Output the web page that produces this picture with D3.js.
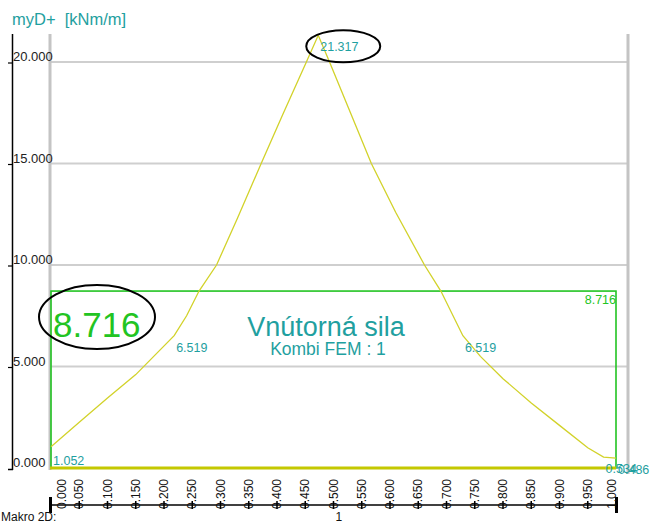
<!DOCTYPE html>
<html>
<head>
<meta charset="utf-8">
<script src="https://cdn.jsdelivr.net/npm/d3@7"></script>
<style>
  html, body { margin: 0; padding: 0; background: #fff; }
  svg { display: block; font-family: Arial, "Liberation Sans", sans-serif; }
</style>
</head>
<body>
<svg id="chart" width="650" height="522"></svg>
<script>
// Internal force myD+ along the member (relative position 0..1)
const positions = [0, 0.05, 0.10, 0.15, 0.218, 0.24, 0.262, 0.293, 0.33, 0.372, 0.41, 0.452, 0.473,
                   0.493, 0.53, 0.567, 0.61, 0.661, 0.69, 0.729, 0.76, 0.80, 0.85, 0.90, 0.95, 0.978, 1.0];
const moments   = [1.052, 2.25, 3.45, 4.6, 6.519, 7.5, 8.716, 10.0, 12.3, 15.0, 17.4, 20.0, 21.317,
                   20.0, 17.5, 15.0, 12.6, 10.0, 8.716, 6.519, 5.5, 4.4, 3.2, 2.1, 1.0, 0.534, 0.486];

// Points whose values are printed next to the curve
const labelledIdx = [0, 4, 12, 19, 25, 26];

// Design value over the whole member
const designValue = 8.716;

const yTicks = [0, 5, 10, 15, 20];
const xTicks = d3.range(0, 21).map(i => i * 0.05);

const titleText = "myD+  [kNm/m]";
const mainCaption = "Vnútorná sila";
const subCaption = "Kombi FEM : 1";
const macroLabel = "Makro 2D:";
const memberLabel = "1";

const teal = "#1fa0a0";
const green = "#22c422";
const curveColor = "#d2d22a";

const svg = d3.select("#chart");

const x = d3.scaleLinear().domain([0, 1]).range([51, 616]);
const y = d3.scaleLinear().domain([0, 20]).range([468, 62]);

// Title
svg.append("text").attr("x", 12).attr("y", 25)
  .attr("fill", teal).attr("font-size", 16.5).attr("xml:space", "preserve")
  .text(titleText);

// Horizontal grid
svg.append("g").selectAll("line").data(yTicks.filter(d => d > 0)).join("line")
  .attr("x1", 50).attr("x2", 628)
  .attr("y1", d => y(d)).attr("y2", d => y(d))
  .attr("stroke", "#cfcfcf").attr("stroke-width", 2);

// Frame verticals
svg.append("line").attr("x1", 50).attr("x2", 50).attr("y1", 34).attr("y2", 470)
  .attr("stroke", "#c4c4c4").attr("stroke-width", 3);
svg.append("line").attr("x1", 628).attr("x2", 628).attr("y1", 34).attr("y2", 474)
  .attr("stroke", "#c4c4c4").attr("stroke-width", 3);

// Left value axis
const yAxis = svg.append("g");
yAxis.append("line").attr("x1", 12.5).attr("x2", 12.5).attr("y1", 34).attr("y2", 470)
  .attr("stroke", "#000").attr("stroke-width", 1.5);
yAxis.append("line").attr("x1", 8).attr("x2", 13).attr("y1", 469.5).attr("y2", 469.5)
  .attr("stroke", "#000").attr("stroke-width", 1.5);
yAxis.selectAll("line.tk").data(yTicks.filter(d => d > 0)).join("line").attr("class", "tk")
  .attr("x1", 8).attr("x2", 13).attr("y1", d => y(d) + 1).attr("y2", d => y(d) + 1)
  .attr("stroke", "#000").attr("stroke-width", 1.2);
yAxis.selectAll("text").data(yTicks).join("text")
  .attr("x", 13).attr("y", d => y(d) - 1)
  .attr("font-size", 13).attr("fill", "#222")
  .text(d => d3.format(".3f")(d));

// Design value band
svg.append("rect")
  .attr("x", x(0)).attr("y", y(designValue))
  .attr("width", x(1) - x(0)).attr("height", y(0) - y(designValue))
  .attr("fill", "none").attr("stroke", green).attr("stroke-width", 1.6);

// Zero line
svg.append("line").attr("x1", 50).attr("x2", x(1)).attr("y1", y(0)).attr("y2", y(0))
  .attr("stroke", "#c4c800").attr("stroke-width", 3);

// Curve
const line = d3.line().x((d, i) => x(positions[i])).y(d => y(d));
svg.append("path").datum(moments).attr("d", line)
  .attr("fill", "none").attr("stroke", curveColor).attr("stroke-width", 1.3);

// Value labels on the curve
svg.append("g").selectAll("text").data(labelledIdx).join("text")
  .attr("x", i => x(positions[i]) + 2)
  .attr("y", i => y(moments[i]) + (i === 0 ? 18 : 16))
  .attr("font-size", 12.5).attr("fill", teal)
  .text(i => d3.format(".3f")(moments[i]));

// Design value labels
svg.append("text").attr("x", x(0) + 2).attr("y", y(designValue) + 46)
  .attr("font-size", 35).attr("fill", green).text(d3.format(".3f")(designValue));
svg.append("text").attr("x", x(1)).attr("y", y(designValue) + 13)
  .attr("text-anchor", "end").attr("font-size", 12.5).attr("fill", green)
  .text(d3.format(".3f")(designValue));

// Highlight ellipses
const peakIdx = moments.indexOf(d3.max(moments));
svg.append("ellipse").attr("cx", x(positions[peakIdx]) + 25).attr("cy", y(moments[peakIdx]) + 11)
  .attr("rx", 37).attr("ry", 16).attr("fill", "none").attr("stroke", "#000").attr("stroke-width", 2);
svg.append("ellipse").attr("cx", x(0) + 46).attr("cy", y(designValue) + 26)
  .attr("rx", 58).attr("ry", 32).attr("fill", "none").attr("stroke", "#000").attr("stroke-width", 2);

// Captions
svg.append("text").attr("x", 326).attr("y", 336).attr("text-anchor", "middle")
  .attr("font-size", 27).attr("fill", teal).text(mainCaption);
svg.append("text").attr("x", 328).attr("y", 355).attr("text-anchor", "middle")
  .attr("font-size", 17.5).attr("fill", teal).text(subCaption);

// Bottom position axis
const xAxisY = 505;
const xAxis = svg.append("g");
xAxis.append("line").attr("x1", x(0)).attr("x2", x(1)).attr("y1", xAxisY).attr("y2", xAxisY)
  .attr("stroke", "#000").attr("stroke-width", 1.5);
[x(0) - 0.5, x(1) + 0.5].forEach(px => {
  xAxis.append("line").attr("x1", px).attr("x2", px).attr("y1", 497).attr("y2", 513)
    .attr("stroke", "#000").attr("stroke-width", 3);
});
xAxis.selectAll("text").data(xTicks).join("text")
  .attr("transform", d => {
    const px = Math.min(Math.max(x(d), 62), 612);
    return `translate(${px + 4},509) rotate(-90)`;
  })
  .attr("font-size", 12).attr("fill", "#111")
  .text(d => d3.format(".3f")(d));
xAxis.selectAll("line.tk").data(xTicks.slice(1, -1)).join("line").attr("class", "tk")
  .attr("x1", d => x(d)).attr("x2", d => x(d)).attr("y1", 501).attr("y2", 509)
  .attr("stroke", "#000").attr("stroke-width", 1.5);

svg.append("text").attr("x", 1).attr("y", 521).attr("font-size", 12).attr("fill", "#111").text(macroLabel);
svg.append("text").attr("x", x(0.5) + 2).attr("y", 521).attr("font-size", 12).attr("fill", "#111").text(memberLabel);
</script>
</body>
</html>
